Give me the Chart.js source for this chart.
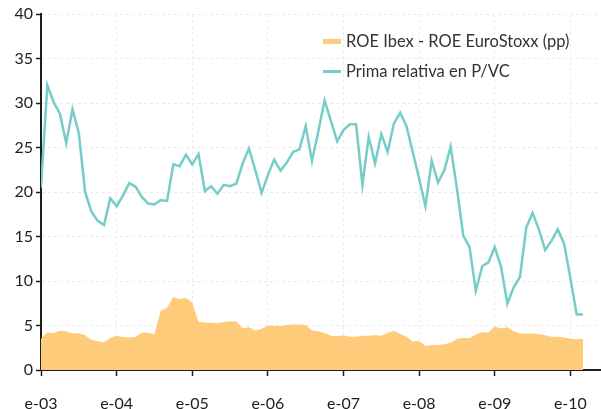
<!DOCTYPE html>
<html>
<head>
<meta charset="utf-8">
<script src="https://cdn.jsdelivr.net/npm/chart.js@4/dist/chart.umd.min.js"></script>
<style>
  html, body { margin: 0; padding: 0; background: #fff; }
  #wrap { position: relative; width: 601px; height: 409px; }
  #legend { position: absolute; left: 323px; top: 29px; font-family: Lato, sans-serif; font-size: 16.5px; color: #333; }
  .item { display: flex; align-items: center; height: 24px; margin-bottom: 6px; }
  .swatch { width: 18px; margin-right: 5px; }
</style>
</head>
<body>
<div id="wrap">
  <canvas id="chart" width="601" height="409"></canvas>
  <div id="legend"></div>
</div>
<script>
// monthly, e-03 (index 0) .. mar-10 (index 86)
const yearLabels = ["e-03", "e-04", "e-05", "e-06", "e-07", "e-08", "e-09", "e-10"];

const roeSpread = [
  3.5, 4.2, 4.15, 4.4, 4.35, 4.1, 4.15, 3.9, 3.4, 3.25, 3.1, 3.6,
  3.85, 3.7, 3.65, 3.7, 4.2, 4.15, 4.05, 6.65, 7.0, 8.2, 7.95, 8.1,
  7.55, 5.4, 5.35, 5.3, 5.25, 5.4, 5.45, 5.45, 4.7, 4.8, 4.45, 4.6,
  5.0, 4.95, 4.95, 5.05, 5.1, 5.1, 5.05, 4.45, 4.35, 4.15, 3.85, 3.8,
  3.9, 3.75, 3.75, 3.85, 3.85, 3.9, 3.85, 4.15, 4.4, 4.05, 3.75, 3.2,
  3.25, 2.7, 2.8, 2.8, 2.9, 3.05, 3.5, 3.6, 3.6, 4.0, 4.25, 4.2,
  4.9, 4.65, 4.8, 4.35, 4.1, 4.1, 4.1, 4.05, 3.9, 3.75, 3.75, 3.65,
  3.5, 3.45, 3.5
];

const primaPVC = [
  20.5, 32, 30.1, 28.8, 25.5, 29.3, 26.6, 20.0, 17.8, 16.75, 16.3, 19.3,
  18.4, 19.6, 21.0, 20.6, 19.45, 18.7, 18.6, 19.1, 19.0, 23.1, 22.9, 24.2,
  23.1, 24.25, 20.1, 20.65, 19.8, 20.8, 20.65, 20.95, 23.2, 24.9, 22.45, 19.9,
  21.9, 23.65, 22.4, 23.3, 24.5, 24.8, 27.4, 23.5, 26.8, 30.3, 28.0, 25.7,
  26.95, 27.6, 27.6, 20.8, 26.2, 23.2, 26.5, 24.5, 27.7, 28.9, 27.4, 24.45,
  21.5, 18.4, 23.5, 21.05, 22.45, 25.1, 20.4, 15.1, 13.8, 8.9, 11.65, 12.1,
  13.8, 11.6, 7.45, 9.3, 10.45, 16.0, 17.65, 15.8, 13.5, 14.5, 15.8, 14.2,
  10.3, 6.25, 6.25
];

const orange = "#fecb7a";
const teal = "#76cdc8";
const inkColor = "#1e1e1e";
const gridColor = "#ebebeb";
const font = { family: "Lato, sans-serif", size: 16 };

const toPoints = (arr) => arr.map((v, i) => ({ x: i, y: v }));

const chart = new Chart(document.getElementById("chart"), {
  type: "line",
  data: {
    datasets: [
      {
        label: "Prima relativa en P/VC",
        data: toPoints(primaPVC),
        borderColor: teal,
        borderWidth: 2.5,
        pointRadius: 0,
        fill: false,
        tension: 0,
        order: 0,
      },
      {
        label: "ROE Ibex - ROE EuroStoxx (pp)",
        data: toPoints(roeSpread),
        borderColor: orange,
        backgroundColor: orange,
        borderWidth: 0,
        pointRadius: 0,
        fill: "origin",
        tension: 0,
        order: 1,
      },
    ],
  },
  options: {
    responsive: false,
    animation: false,
    layout: { padding: { top: 14, right: 1, left: 0, bottom: 0 } },
    plugins: { legend: { display: false }, tooltip: { enabled: false } },
    scales: {
      x: {
        type: "linear",
        min: 0,
        max: 88.7,
        afterBuildTicks: (scale) => {
          scale.ticks = yearLabels.map((_, i) => ({ value: i * 12 }));
        },
        afterFit: (scale) => {
          scale.height = 39;
          scale.paddingLeft = 0;
          scale.paddingRight = 0;
        },
        ticks: {
          callback: (v) => yearLabels[Math.round(v / 12)],
          color: inkColor,
          font: font,
          padding: 18,
          maxRotation: 0,
          autoSkip: false,
        },
        grid: {
          color: gridColor,
          lineWidth: 1,
          tickColor: inkColor,
          tickLength: 6,
          tickWidth: 1.5,
        },
        border: { color: inkColor, width: 2, dash: [3, 3] },
      },
      y: {
        min: 0,
        max: 40,
        afterFit: (scale) => {
          scale.width = 41;
          scale.paddingTop = 0;
          scale.paddingBottom = 0;
        },
        ticks: { stepSize: 5, color: inkColor, font: font, padding: 3 },
        grid: {
          color: gridColor,
          lineWidth: 1,
          tickColor: inkColor,
          tickLength: 5,
          tickWidth: 1.5,
        },
        border: { color: inkColor, width: 2, dash: [3, 3] },
      },
    },
  },
});

// legend, ordered as in the picture
const legend = document.getElementById("legend");
[
  { text: "ROE Ibex - ROE EuroStoxx (pp)", color: orange, h: 5 },
  { text: "Prima relativa en P/VC", color: teal, h: 3 },
].forEach((it) => {
  const row = document.createElement("div");
  row.className = "item";
  const sw = document.createElement("span");
  sw.className = "swatch";
  sw.style.height = it.h + "px";
  sw.style.background = it.color;
  const label = document.createElement("span");
  label.textContent = it.text;
  row.appendChild(sw);
  row.appendChild(label);
  legend.appendChild(row);
});
</script>
</body>
</html>
